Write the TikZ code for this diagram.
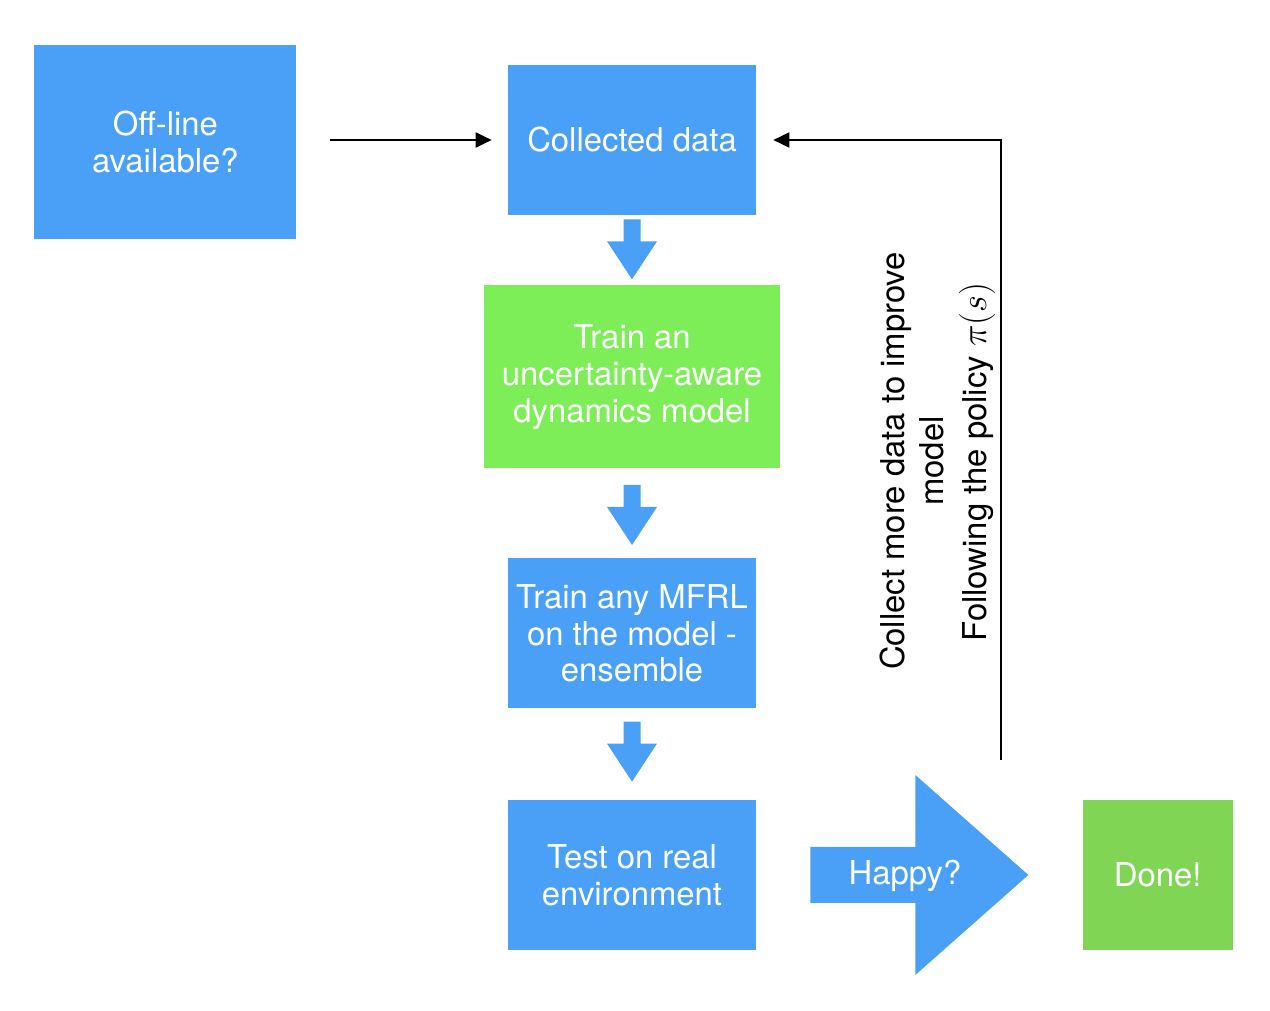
\documentclass[tikz,border=0pt]{standalone}
\usepackage{fontspec}
\setmainfont{TeX Gyre Heros}
\usetikzlibrary{positioning, arrows.meta}
\definecolor{boxblue}{HTML}{4AA0F6}
\definecolor{boxgreen}{HTML}{7DEE57}
\definecolor{donegreen}{HTML}{80D654}
\tikzset{
  >={Triangle[length=0.32cm, width=0.3cm]},
  every node/.style={font=\fontsize{18.7}{21}\selectfont, align=center, inner sep=0pt},
  box/.style={fill=boxblue, text=white, minimum width=4.96cm, minimum height=3cm},
  greenbox/.style={box, fill=boxgreen},
  feedback/.style={line width=1.1pt, ->},
  label/.style={rotate=90, text=black},
}
% block arrow pointing down, from a named start point
\newcommand{\blockdown}[1]{%
  \fill[boxblue] (#1) ++(-8.5,0) -- ++(17,0) -- ++(0,22) -- ++(16.5,0)
    -- ++(-25,38) -- ++(-25,-38) -- ++(16.5,0) -- cycle;}

\begin{document}
\begin{tikzpicture}[x=0.02cm, y=-0.02cm]
  \useasboundingbox (0,0) rectangle (1270,1010);

  \node[box] (collected) at (632,140) {Collected data};
  \node[box, left=4.22cm of collected, yshift=-0.04cm, minimum width=5.24cm, minimum height=3.88cm] (offline) {Off-line\\available?};
  \node[greenbox, below=1.38cm of collected, minimum width=5.94cm, minimum height=3.66cm, text depth=0.1cm] (uncert) {Train an\\uncertainty-aware\\dynamics model};
  \node[box, below=1.8cm of uncert] (mfrl) {Train any MFRL\\on the model -\\ensemble};
  \node[box, below=1.82cm of mfrl] (test) {Test on real\\environment};
  \node[box, fill=donegreen, right=6.52cm of test, minimum width=3cm] (done) {Done!};

  % block arrows between the steps
  \path (collected.south) ++(0,4) coordinate (down1);
  \path (uncert.south) ++(0,17) coordinate (down2);
  \path (mfrl.south) ++(0,13) coordinate (down3);
  \blockdown{down1}
  \blockdown{down2}
  \blockdown{down3}

  % happy? arrow
  \path (test.east) ++(54,0) coordinate (happystart);
  \fill[boxblue] (happystart) ++(0,-28) -- ++(105,0) -- ++(0,-72) -- ++(113,100)
    -- ++(-113,100) -- ++(0,-72) -- ++(-105,0) -- cycle;
  \node[text=white] (happy) at (905,876) {Happy?};

  % data and feedback loop
  \draw[feedback, shorten <=0.66cm, shorten >=0.32cm] (offline.east |- collected) -- (collected.west);
  \coordinate (loopstart) at (1001,760);
  \draw[feedback, shorten >=0.34cm] (loopstart) |- (collected.east);
  \node[label, font=\fontsize{18.7}{22}\selectfont] (collect) at (912,461) {Collect more data to improve\\model};
  \node[label] (policy) at (977,462) {Following the policy \scalebox{1.2}{$\pi(s)$}};
\end{tikzpicture}
\end{document}
